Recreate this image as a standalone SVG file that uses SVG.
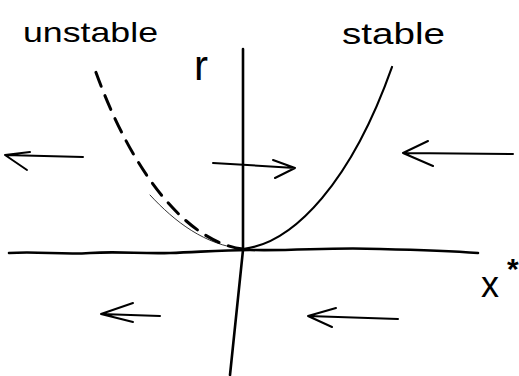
<svg xmlns="http://www.w3.org/2000/svg" width="519" height="376" viewBox="0 0 519 376">
<style>
.ln{fill:none;stroke:#000;stroke-linecap:round;stroke-linejoin:round}
.ax{stroke-width:2.6}
.cv{stroke-width:2.2}
.ar{stroke-width:2}
.dash{stroke-dasharray:15 10;stroke-width:3}
.t{font-family:"Liberation Sans",Arial,sans-serif;fill:#000}
</style>
<rect width="519" height="376" fill="#fff"/>
<g id="axes">
<path class="ln ax" d="M9,253 C40,251 60,255 90,253 C120,251 140,254 170,253 C200,252 220,250 250,250 C300,251 330,247 380,249 C420,250 450,251 478,253"/>
<path class="ln ax" d="M243,49 L243,250 L230,375"/>
</g>
<g id="curves">
<path class="ln cv" d="M243,249 C295,243 352,180 392,67"/>
<path class="ln" stroke="#777" stroke-width="0.8" d="M150,195 C175,222 205,245 243,249"/>
<path class="ln dash" d="M243,249 C191,243 134,180 94,67"/>
</g>
<g id="arrows">
<path class="ln ar" d="M83,157 L5,155 M30,152 L5,155 L27,170"/>
<path class="ln ar" d="M213,163 L295,168 M273,160 L295,168 L275,178"/>
<path class="ln ar" d="M513,154 L403,153 M428,141 L403,153 L433,166"/>
<path class="ln ar" d="M160,316 L101,314 M133,303 L101,314 L133,322"/>
<path class="ln ar" d="M398,319 L308,316 M336,308 L308,316 L332,327"/>
</g>
<g id="labels">
<text class="t" x="23" y="42" font-size="28" textLength="135" lengthAdjust="spacingAndGlyphs">unstable</text>
<text class="t" x="342" y="44" font-size="30" textLength="103" lengthAdjust="spacingAndGlyphs">stable</text>
<text class="t" x="194" y="80" font-size="42">r</text>
<text class="t" font-size="36"><tspan x="481" y="297">x</tspan><tspan x="507" y="279" font-size="30" font-weight="bold">*</tspan></text>
</g>
</svg>
